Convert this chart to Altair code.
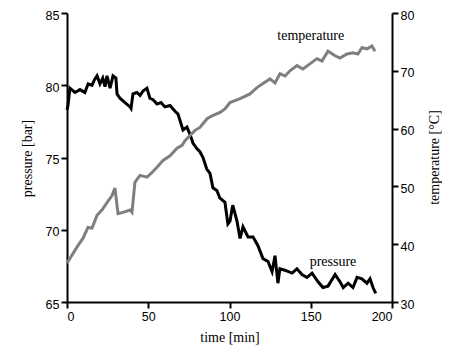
import altair as alt
import pandas as pd

# pressure trace (time [min], pressure [bar])
p_time = [0, 0.6, 1.8, 4.9, 8, 11, 13, 15.4, 17, 18.5, 20.3, 22, 23.4, 24.6, 26.5, 28.3, 30.1, 30.8,
          32.6, 35.7, 38.8, 39.4, 40.6, 43, 45, 46.8, 49.2, 51, 53, 55.4, 57.8, 60.3, 63.4, 66.5,
          68.3, 71.4, 73.8, 75.7, 77.5, 80, 81.8, 83.7, 86, 88, 89.8, 92.3, 94, 97.2, 99, 100.3,
          102, 104.6, 106.5, 108.3, 111.4, 114.5, 117.5, 120.6, 123.7, 126.2, 128, 129.8, 131,
          134, 138.5, 141.5, 144.6, 147.7, 150.8, 154.5, 157.5, 160.6, 165, 168, 170, 173, 176,
          178.5, 181.5, 184.6, 186.5, 188.3, 190]
p_val = [78.3, 78.6, 79.8, 79.5, 79.7, 79.5, 80.1, 80.0, 80.4, 80.65, 80.1, 80.5, 79.9, 80.65, 79.8,
         80.65, 80.5, 79.4, 79.1, 78.8, 78.5, 78.4, 79.4, 79.5, 79.3, 79.6, 79.8, 79.1, 79.0, 78.7,
         78.8, 78.5, 78.6, 78.2, 78.0, 76.9, 77.1, 76.6, 76.0, 75.6, 75.4, 75.0, 74.2, 73.9, 72.9,
         72.7, 72.2, 71.9, 70.4, 70.6, 71.7, 70.6, 69.4, 70.2, 69.5, 69.5, 68.9, 68.0, 67.8, 67.1,
         68.2, 66.3, 67.3, 67.2, 67.0, 67.3, 66.9, 66.7, 67.0, 66.4, 66.0, 66.1, 66.9, 66.4, 66.0,
         66.3, 66.0, 66.7, 66.6, 66.3, 66.6, 66.0, 65.6]

# temperature trace (time [min], temperature [°C])
t_time = [0, 3.7, 6.8, 9.8, 12.9, 15.4, 18.5, 21.5, 24.6, 27.7, 29.5, 31.4, 34.5, 38.8, 40, 41.8,
          44.9, 49.2, 52.3, 55.4, 59.1, 63.4, 67.7, 70.8, 72.6, 75.7, 78.8, 81.8, 86.2, 89.2, 94.2,
          97.2, 100.3, 106.5, 112.6, 116.9, 120.6, 124.9, 128, 131.1, 134.2, 137.2, 141.5, 145.2,
          149.5, 153.8, 156.9, 160.6, 165, 168, 172.3, 176, 179, 181.5, 184.6, 187.7, 189.5]
t_val = [36.7, 38.4, 39.8, 41.0, 42.9, 42.8, 45.0, 45.9, 47.2, 48.4, 49.7, 45.3, 45.5, 45.9, 45.5,
         50.7, 51.9, 51.6, 52.4, 53.3, 54.5, 55.3, 56.6, 57.1, 57.9, 58.8, 59.7, 60.2, 61.7, 62.2,
         62.8, 63.4, 64.5, 65.2, 66.0, 67.1, 67.8, 68.6, 67.9, 69.5, 69.1, 70.0, 70.9, 70.3, 71.2,
         72.1, 71.7, 73.4, 72.6, 72.2, 72.9, 73.1, 72.9, 74.0, 73.8, 74.3, 73.4]

x_ticks = [0, 50, 100, 150, 200]
p_ticks = [65, 70, 75, 80, 85]
t_ticks = [30, 40, 50, 60, 70, 80]

p_df = pd.DataFrame({"time": p_time, "pressure": p_val})
t_df = pd.DataFrame({"time": t_time, "temperature": t_val})
p_lab = pd.DataFrame({"time": [163.7], "pressure": [67.8], "label": ["pressure"]})
t_lab = pd.DataFrame({"time": [150], "temperature": [76.0], "label": ["temperature"]})

xenc = alt.X("time:Q", scale=alt.Scale(domain=[0, 200], nice=False),
             axis=alt.Axis(values=x_ticks, title="time [min]", titlePadding=8))

p_scale = alt.Scale(domain=[65, 85], nice=False, zero=False)
t_scale = alt.Scale(domain=[30, 80], nice=False, zero=False)

p_line = alt.Chart(p_df).mark_line(color="black", strokeWidth=3).encode(
    x=xenc,
    y=alt.Y("pressure:Q", scale=p_scale,
            axis=alt.Axis(values=p_ticks, title="pressure [bar]", orient="left", labelOffset=2,
                          titleX=-40, titleY=145, titleAngle=270,
                          titleAlign="center", titleBaseline="middle")),
)
p_text = alt.Chart(p_lab).mark_text(font="Liberation Serif", fontSize=14, color="black").encode(
    x="time:Q", y=alt.Y("pressure:Q", scale=p_scale), text="label:N"
)
t_line = alt.Chart(t_df).mark_line(color="#7f7f7f", strokeWidth=3).encode(
    x=xenc,
    y=alt.Y("temperature:Q", scale=t_scale,
            axis=alt.Axis(values=t_ticks, title="temperature [°C]", orient="right", labelOffset=2,
                          titleX=42, titleY=144, titleAngle=270,
                          titleAlign="center", titleBaseline="middle")),
)
t_text = alt.Chart(t_lab).mark_text(font="Liberation Serif", fontSize=14, color="black").encode(
    x="time:Q", y=alt.Y("temperature:Q", scale=t_scale), text="label:N"
)

chart = alt.layer(
    alt.layer(p_line, p_text),
    alt.layer(t_line, t_text),
).resolve_scale(y="independent").properties(
    width=325, height=289,
    autosize=alt.AutoSizeParams(type="none"),
    padding={"left": 59, "top": 5, "right": 50, "bottom": 52},
).configure_view(stroke=None).configure_axis(
    grid=False,
    labelFont="Liberation Sans", labelFontSize=12.5, labelColor="black", labelPadding=2,
    titleFont="Liberation Serif", titleFontSize=14, titleFontWeight="normal", titleColor="black",
    domainColor="black", domainWidth=2, tickColor="black", tickWidth=2, tickSize=6,
)

chart.save("out.html", embed_options={"renderer": "svg", "actions": False})
